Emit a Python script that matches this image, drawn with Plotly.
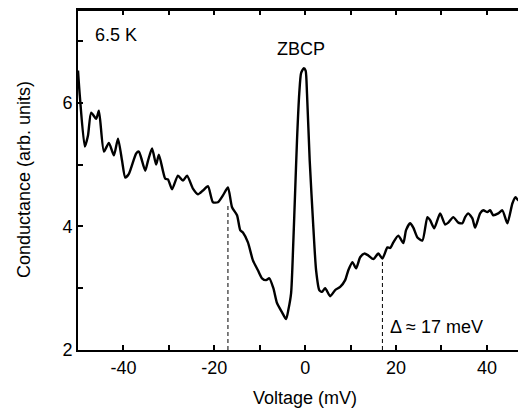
import plotly.graph_objects as go

# Data
voltage = [-50.0, -49.6, -48.5, -47.8, -47.1, -46.0, -45.4, -44.3, -43.2, -42.1, -41.2, -40.3,
           -39.6, -38.8, -37.2, -36.6, -36.1, -35.2, -34.6, -33.7, -32.8, -32.2, -30.8, -30.2,
           -29.3, -28.0, -26.9, -26.0, -24.7, -23.6, -22.5, -21.4, -20.3, -19.2, -18.1, -17.0,
           -16.1, -15.0, -14.3, -13.7, -12.6, -11.5, -10.4, -9.5, -8.6, -7.9, -7.0, -6.2,
           -5.1, -4.2, -3.7, -3.1, -2.6, -2.2, -1.8, -1.3, -0.9, -0.3, 0.1, 0.4,
           1.0, 1.8, 2.4, 3.1, 3.7, 4.4, 5.5, 6.6, 7.7, 8.8, 9.5, 10.4,
           11.2, 12.1, 13.0, 13.9, 15.0, 16.1, 17.0, 18.1, 18.7, 19.4, 20.5, 21.6,
           22.2, 23.1, 23.8, 24.7, 25.8, 26.9, 27.5, 28.4, 29.7, 30.8, 31.5, 32.6,
           33.7, 34.6, 35.2, 35.9, 36.8, 37.4, 38.5, 39.2, 40.1, 40.7, 41.4, 42.5,
           43.4, 44.5, 45.6, 46.3, 46.9, 47.4, 48.0, 48.7, 49.4, 50.0]
conductance = [6.52, 6.11, 5.29, 5.47, 5.84, 5.74, 5.87, 5.21, 5.35, 5.15, 5.42, 5.06,
               4.79, 4.85, 5.18, 5.21, 5.11, 4.90, 5.06, 5.26, 5.00, 5.16, 4.77, 4.76,
               4.60, 4.82, 4.74, 4.82, 4.61, 4.52, 4.58, 4.65, 4.39, 4.39, 4.50, 4.63,
               4.31, 4.18, 3.94, 3.90, 3.74, 3.45, 3.29, 3.16, 3.13, 3.16, 3.00, 2.76,
               2.61, 2.50, 2.65, 2.92, 3.77, 4.58, 5.39, 6.15, 6.48, 6.56, 6.52, 6.15,
               5.06, 3.98, 3.29, 2.97, 2.94, 3.00, 2.87, 2.97, 3.02, 3.13, 3.29, 3.42,
               3.32, 3.50, 3.56, 3.53, 3.47, 3.56, 3.48, 3.66, 3.65, 3.74, 3.85, 3.73,
               3.94, 4.05, 3.98, 3.82, 3.77, 4.15, 4.10, 3.97, 4.21, 4.03, 4.06, 4.15,
               4.06, 4.05, 4.15, 4.21, 4.13, 3.98, 4.21, 4.26, 4.23, 4.26, 4.18, 4.21,
               4.26, 4.05, 4.37, 4.47, 4.42, 4.50, 4.39, 4.53, 4.55, 4.60]

gap_x = [-17, 17]
gap_top = [4.34, 3.5]

x_ticks = [-50, -40, -30, -20, -10, 0, 10, 20, 30, 40, 50]
x_labels = ["", "-40", "", "-20", "", "0", "", "20", "", "40", ""]
y_ticks = [2, 3, 4, 5, 6, 7]
y_labels = ["2", "", "4", "", "6", ""]

FONT = "Liberation Sans, Arial, sans-serif"
FS = 18

fig = go.Figure()
fig.add_trace(go.Scatter(x=voltage, y=conductance, mode="lines",
                         line=dict(color="black", width=2.4, shape="spline", smoothing=0.6),
                         hoverinfo="skip", showlegend=False))

for gx, gt in zip(gap_x, gap_top):
    fig.add_shape(type="line", x0=gx, x1=gx, y0=2, y1=gt, xref="x", yref="y",
                  line=dict(color="black", width=1, dash="4px,3px"))

# top frame line
fig.add_shape(type="line", xref="paper", yref="paper", x0=0, x1=1, y0=1, y1=1,
              line=dict(color="black", width=2))

fig.add_annotation(x=-46.6, y=7.09, text="6.5 K", showarrow=False, xanchor="left",
                   yanchor="middle", font=dict(size=FS, color="black", family=FONT))
fig.add_annotation(x=-1.0, y=6.87, text="ZBCP", showarrow=False, yanchor="middle",
                   font=dict(size=FS, color="black", family=FONT))
fig.add_annotation(x=18.2, y=2.37, text="\u0394 \u2248 17 meV", showarrow=False, xanchor="left",
                   yanchor="middle", font=dict(size=FS, color="black", family=FONT))

# axis titles as annotations for exact placement
fig.add_annotation(xref="paper", yref="paper", x=0.507, y=-0.141, text="Voltage (mV)",
                   xanchor="center", yanchor="middle",
                   showarrow=False, font=dict(size=FS, color="black", family=FONT))
fig.add_annotation(xref="paper", yref="paper", x=-0.1205, y=0.5, text="Conductance (arb. units)",
                   xanchor="center", yanchor="middle",
                   textangle=-90, showarrow=False, font=dict(size=FS, color="black", family=FONT))

# page body has an 8px margin, so the figure is shifted by 8px; compensate
fig.update_layout(
    width=518, height=404,
    margin=dict(l=70, r=0, t=2, b=62, autoexpand=False),
    paper_bgcolor="white", plot_bgcolor="white",
    font=dict(family=FONT, size=FS, color="black"),
    xaxis=dict(range=[-50, 48.6], tickvals=x_ticks, ticktext=x_labels,
               ticks="inside", ticklen=5, tickwidth=1.5, tickcolor="black",
               tickfont=dict(size=FS),
               showline=True, linecolor="black", linewidth=2, mirror="allticks",
               showgrid=False, zeroline=False, automargin=False),
    yaxis=dict(range=[2, 7.5], tickvals=y_ticks, ticktext=y_labels,
               ticks="inside", ticklen=5, tickwidth=1.5, tickcolor="black",
               tickfont=dict(size=FS),
               showline=True, linecolor="black", linewidth=2,
               showgrid=False, zeroline=False, automargin=False),
)

fig.write_html("out.html")
